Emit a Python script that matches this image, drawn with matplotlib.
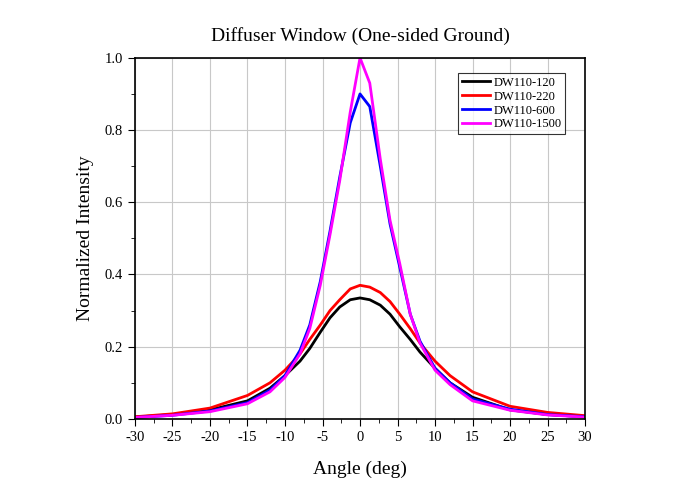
import matplotlib
matplotlib.use('Agg')
import matplotlib.pyplot as plt
from matplotlib.ticker import MultipleLocator

plt.rcParams['font.family'] = ['Liberation Serif', 'DejaVu Serif']
plt.rcParams['axes.unicode_minus'] = False

angle = [-30, -25, -20, -15, -12, -10, -8, -6.7, -5.3, -4, -2.7, -1.3, 0,
         1.3, 2.7, 4, 5.3, 6.7, 8, 10, 12, 15, 20, 25, 30]
dw120 = [0.005, 0.012, 0.025, 0.05, 0.085, 0.12, 0.16, 0.195, 0.24, 0.28, 0.31, 0.33, 0.335,
         0.33, 0.315, 0.29, 0.255, 0.22, 0.185, 0.14, 0.10, 0.06, 0.025, 0.012, 0.006]
dw220 = [0.006, 0.014, 0.03, 0.065, 0.10, 0.135, 0.18, 0.22, 0.26, 0.30, 0.33, 0.36, 0.37,
         0.365, 0.35, 0.325, 0.29, 0.25, 0.21, 0.16, 0.12, 0.075, 0.035, 0.018, 0.009]
dw600 = [0.004, 0.01, 0.022, 0.045, 0.08, 0.12, 0.19, 0.26, 0.38, 0.52, 0.67, 0.82, 0.90,
         0.865, 0.70, 0.54, 0.42, 0.29, 0.215, 0.14, 0.10, 0.055, 0.027, 0.012, 0.006]
dw1500 = [0.004, 0.01, 0.02, 0.042, 0.075, 0.115, 0.18, 0.25, 0.37, 0.51, 0.66, 0.85, 1.0,
          0.93, 0.72, 0.55, 0.43, 0.29, 0.21, 0.135, 0.095, 0.05, 0.024, 0.011, 0.005]

fig = plt.figure(figsize=(6.94, 4.94), dpi=100)
ax = fig.add_axes([0.1945, 0.152, 0.6485, 0.731])
for y, c, lab in [(dw120, 'black', 'DW110-120'), (dw220, '#ff0000', 'DW110-220'),
                  (dw600, '#0000ff', 'DW110-600'), (dw1500, '#ff00ff', 'DW110-1500')]:
    ax.plot(angle, y, color=c, lw=2, label=lab)

ax.set_xlim(-30, 30)
ax.set_ylim(0, 1.0)
ax.xaxis.set_major_locator(MultipleLocator(5))
ax.xaxis.set_minor_locator(MultipleLocator(2.5))
ax.yaxis.set_major_locator(MultipleLocator(0.2))
ax.yaxis.set_minor_locator(MultipleLocator(0.1))
ax.set_yticklabels([f'{v:.1f}' for v in ax.get_yticks()])
ax.grid(True, which='major', color='#c8c8c8', lw=0.8)
ax.tick_params(which='major', length=5, labelsize=10.5)
ax.tick_params(which='minor', length=3)
for s in ax.spines.values():
    s.set_linewidth(1.2)
ax.set_xlabel('Angle (deg)', fontsize=14, labelpad=12)
ax.set_ylabel('Normalized Intensity', fontsize=14, labelpad=8)
ax.set_title('Diffuser Window (One-sided Ground)', fontsize=14, pad=12)
leg = ax.legend(loc='upper right', fontsize=9, fancybox=False, edgecolor='black',
                handlelength=2.2, borderpad=0.3, labelspacing=0.15, handletextpad=0.3,
                bbox_to_anchor=(0.97, 0.975))
leg.get_frame().set_linewidth(0.8)

fig.savefig('out.png', dpi=100)
